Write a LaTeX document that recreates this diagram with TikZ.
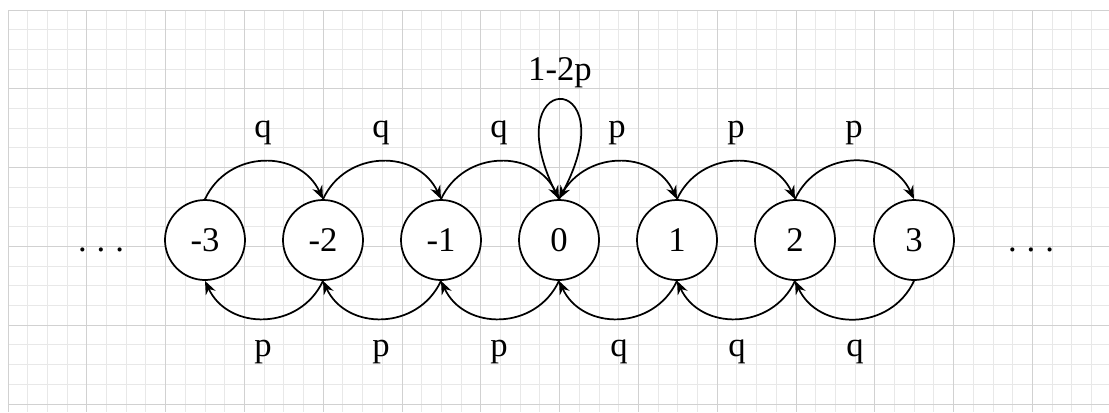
\documentclass[tikz,border=0pt]{standalone}
\usepackage{fontspec}
\setmainfont{Liberation Serif}
\usetikzlibrary{arrows.meta}
\begin{document}
\begin{tikzpicture}[x=0.75pt,y=0.75pt,
  minorline/.style={draw=black!9,line width=0.75pt},
  majorline/.style={draw=black!18,line width=0.75pt},
  state/.style={circle,draw=black,line width=1.3pt,fill=white,minimum size=60pt,inner sep=0pt,font=\fontsize{26}{30}\selectfont},
  lbl/.style={font=\fontsize{26}{30}\selectfont,inner sep=0pt},
  arr/.style={draw=black,line width=1.3pt,-{Stealth[length=10pt,width=8pt]}},
  dots/.style={font=\fontsize{26}{30}\selectfont,inner sep=0pt,anchor=base}]
\useasboundingbox (0,0) rectangle (1109,-412);
\fill[white] (0,0) rectangle (1109,-412);
% grid
\foreach \i in {0,...,55} \draw[minorline] ({8+19.7*\i},-10) -- ({8+19.7*\i},-412);
\foreach \j in {0,...,20} \draw[minorline] (8,{-10-19.7*\j}) -- (1109,{-10-19.7*\j});
\foreach \i in {0,...,13} \draw[majorline] ({8+78.8*\i},-10) -- ({8+78.8*\i},-412);
\foreach \j in {0,...,5} \draw[majorline] (8,{-10-78.8*\j}) -- (1109,{-10-78.8*\j});
% states
\node[state] (m3) at (205,-240) {-3};
\node[state] (m2) at (323,-240) {-2};
\node[state] (m1) at (441,-240) {-1};
\node[state] (z)  at (559,-240) {0};
\node[state] (p1) at (677,-240) {1};
\node[state] (p2) at (795,-240) {2};
\node[state] (p3) at (914,-240) {3};
% dots
\node[dots] (ldots) at (101,-251) {.\hspace{7.5pt}.\hspace{7.5pt}.};
\node[dots] (rdots) at (1031,-251) {.\hspace{7.5pt}.\hspace{7.5pt}.};
% upper arcs
\draw[arr] (m3.north) to[out=65,in=115,looseness=1.2] (m2.north);
\draw[arr] (m2.north) to[out=65,in=115,looseness=1.2] (m1.north);
\draw[arr] (m1.north) to[out=65,in=115,looseness=1.2] (z.north);
\draw[arr] (z.north) to[out=65,in=115,looseness=1.2] (p1.north);
\draw[arr] (p1.north) to[out=65,in=115,looseness=1.2] (p2.north);
\draw[arr] (p2.north) to[out=65,in=115,looseness=1.2] (p3.north);
% lower arcs
\draw[arr] (m2.south) to[out=-115,in=-65,looseness=1.2] (m3.south);
\draw[arr] (m1.south) to[out=-115,in=-65,looseness=1.2] (m2.south);
\draw[arr] (z.south) to[out=-115,in=-65,looseness=1.2] (m1.south);
\draw[arr] (p1.south) to[out=-115,in=-65,looseness=1.2] (z.south);
\draw[arr] (p2.south) to[out=-115,in=-65,looseness=1.2] (p1.south);
\draw[arr] (p3.south) to[out=-115,in=-65,looseness=1.2] (p2.south);
% self loop
\draw[arr] (z.north) .. controls +(118:150) and +(62:150) .. (z.north);
% labels
\node[lbl] (lq1) at (263,-133) {q};
\node[lbl] (lq2) at (381,-133) {q};
\node[lbl] (lq3) at (499,-133) {q};
\node[lbl] (lp1) at (617,-133) {p};
\node[lbl] (lp2) at (736,-133) {p};
\node[lbl] (lp3) at (854,-133) {p};
\node[lbl] (bp1) at (263,-352) {p};
\node[lbl] (bp2) at (381,-352) {p};
\node[lbl] (bp3) at (499,-352) {p};
\node[lbl] (bq1) at (619,-352) {q};
\node[lbl] (bq2) at (737,-352) {q};
\node[lbl] (bq3) at (855,-352) {q};
\node[lbl] (loop) at (560,-73) {1-2p};
\end{tikzpicture}
\end{document}
